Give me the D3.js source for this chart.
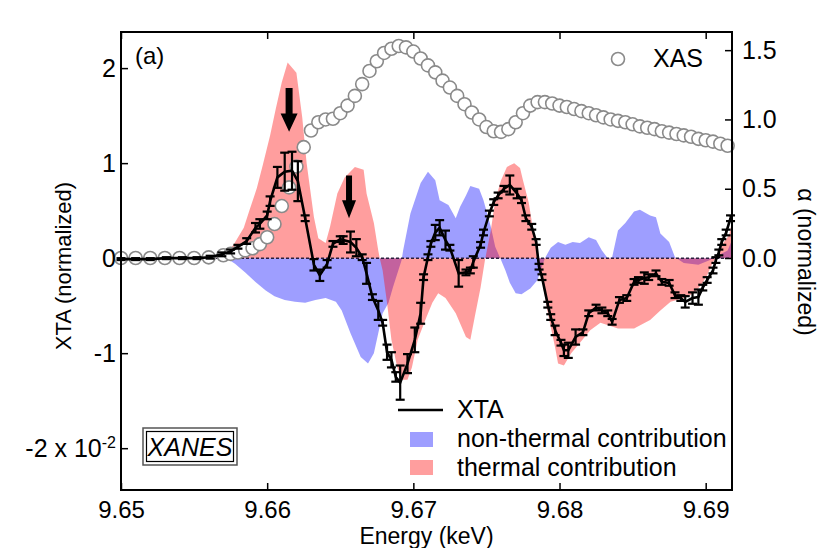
<!DOCTYPE html>
<html>
<head>
<meta charset="utf-8">
<script src="https://cdn.jsdelivr.net/npm/d3@7"></script>
<style>
  body { margin: 0; background: #fff; }
  svg text { font-family: "Liberation Sans", Arial, sans-serif; fill: #000; }
</style>
</head>
<body>
<svg id="chart" width="822" height="548"></svg>
<script>
// XTA (x 10^-2), energies in keV
var xtaE = [9.6500, 9.6510, 9.6520, 9.6531, 9.6542, 9.6552, 9.6561, 9.6569, 9.6575, 9.6580,
    9.6586, 9.6592, 9.6595, 9.6600, 9.6602, 9.6607, 9.6612, 9.6617, 9.6621, 9.6626,
    9.6632, 9.6636, 9.6641, 9.6645, 9.6650, 9.6652, 9.6657, 9.6661, 9.6665, 9.6668,
    9.6672, 9.6676, 9.6679, 9.6682, 9.6685, 9.6688, 9.6691, 9.6696, 9.6701, 9.6705,
    9.6707, 9.6710, 9.6712, 9.6715, 9.6718, 9.6722, 9.6725, 9.6731, 9.6736, 9.6739,
    9.6741, 9.6746, 9.6748, 9.6752, 9.6755, 9.6758, 9.6762, 9.6766, 9.6771, 9.6774,
    9.6777, 9.6781, 9.6784, 9.6786, 9.6788, 9.6792, 9.6794, 9.6797, 9.6801, 9.6803,
    9.6806, 9.6811, 9.6816, 9.6820, 9.6825, 9.6829, 9.6833, 9.6836, 9.6841, 9.6846,
    9.6851, 9.6854, 9.6858, 9.6861, 9.6866, 9.6870, 9.6875, 9.6879, 9.6883, 9.6886,
    9.6891, 9.6895, 9.6898, 9.6901, 9.6905, 9.6907, 9.6909, 9.6911, 9.6914, 9.6917];
var xtaV = [-0.01, -0.01, -0.01, 0.00, 0.00, 0.00, 0.01, 0.04, 0.07, 0.12,
    0.18, 0.32, 0.36, 0.45, 0.60, 0.85, 0.91, 0.92, 0.81, 0.42,
    -0.07, -0.18, -0.06, 0.15, 0.20, 0.19, 0.17, 0.11, 0.01, -0.16,
    -0.41, -0.55, -0.68, -0.99, -1.07, -1.25, -1.31, -1.11, -0.86, -0.58,
    -0.20, 0.01, 0.15, 0.27, 0.32, 0.19, 0.11, -0.16, -0.15, -0.13,
    -0.04, 0.14, 0.27, 0.47, 0.59, 0.66, 0.73, 0.77, 0.68, 0.61,
    0.42, 0.33, 0.17, -0.09, -0.20, -0.49, -0.62, -0.76, -0.89, -0.97,
    -0.97, -0.83, -0.78, -0.58, -0.52, -0.55, -0.58, -0.67, -0.44, -0.42,
    -0.25, -0.23, -0.21, -0.20, -0.16, -0.25, -0.26, -0.39, -0.42, -0.46,
    -0.42, -0.41, -0.31, -0.23, -0.13, -0.02, 0.06, 0.17, 0.27, 0.42];
var xtaErr = [0.01, 0.01, 0.01, 0.01, 0.01, 0.01, 0.015, 0.02, 0.02, 0.02,
    0.03, 0.05, 0.05, 0.04, 0.05, 0.11, 0.20, 0.20, 0.21, 0.03,
    0.06, 0.06, 0.04, 0.03, 0.03, 0.04, 0.11, 0.09, 0.03, 0.11,
    0.03, 0.10, 0.03, 0.08, 0.08, 0.05, 0.18, 0.10, 0.13, 0.11,
    0.03, 0.03, 0.03, 0.08, 0.08, 0.10, 0.03, 0.14, 0.03, 0.03,
    0.06, 0.03, 0.03, 0.03, 0.03, 0.03, 0.03, 0.10, 0.05, 0.03,
    0.03, 0.03, 0.03, 0.03, 0.03, 0.03, 0.03, 0.05, 0.03, 0.06,
    0.08, 0.08, 0.03, 0.03, 0.03, 0.03, 0.03, 0.03, 0.03, 0.03,
    0.03, 0.03, 0.06, 0.03, 0.03, 0.03, 0.03, 0.03, 0.03, 0.06,
    0.06, 0.08, 0.03, 0.03, 0.03, 0.03, 0.03, 0.03, 0.03, 0.03];

// thermal contribution (red)
var thermE = [9.6564, 9.6570, 9.6577, 9.6584, 9.6588, 9.6593, 9.6597, 9.6602, 9.6606, 9.6610,
    9.6614, 9.6620, 9.6624, 9.6627, 9.6632, 9.6635, 9.6640, 9.6643, 9.6648, 9.6653,
    9.6660, 9.6666, 9.6668, 9.6673, 9.6676, 9.6677, 9.6679, 9.6682, 9.6685, 9.6689,
    9.6692, 9.6696, 9.6699, 9.6703, 9.6709, 9.6713, 9.6717, 9.6722, 9.6729, 9.6736,
    9.6739, 9.6742, 9.6746, 9.6749, 9.6753, 9.6756, 9.6760, 9.6764, 9.6769, 9.6773,
    9.6775, 9.6779, 9.6782, 9.6785, 9.6786, 9.6788, 9.6792, 9.6797, 9.6799, 9.6803,
    9.6808, 9.6814, 9.6821, 9.6828, 9.6840, 9.6851, 9.6862, 9.6869, 9.6876, 9.6885,
    9.6892, 9.6897, 9.6901, 9.6905, 9.6907, 9.6912, 9.6916, 9.6918];
var thermV = [0, 0.02, 0.14, 0.32, 0.51, 0.74, 0.98, 1.29, 1.58, 1.85,
    2.06, 1.95, 1.48, 1.00, 0.43, 0.21, 0.16, 0.33, 0.68, 0.85,
    0.96, 0.93, 0.68, 0.37, 0.08, 0, -0.13, -0.47, -0.86, -1.15,
    -1.28, -1.28, -1.15, -0.86, -0.62, -0.47, -0.37, -0.42, -0.58, -0.83,
    -0.86, -0.62, -0.31, -0.02, 0.29, 0.61, 0.82, 0.96, 1.00, 0.95,
    0.82, 0.58, 0.29, 0.08, 0, -0.23, -0.58, -0.94, -1.11, -1.13,
    -1.00, -0.89, -0.76, -0.68, -0.74, -0.74, -0.65, -0.55, -0.46, -0.42,
    -0.37, -0.28, -0.18, -0.04, 0, 0.16, 0.24, 0.38];

// non-thermal contribution (blue)
var nonThermE = [9.6568, 9.6573, 9.6578, 9.6585, 9.6592, 9.6599, 9.6605, 9.6612, 9.6619, 9.6626,
    9.6633, 9.6640, 9.6647, 9.6651, 9.6657, 9.6664, 9.6669, 9.6673, 9.6676, 9.6679,
    9.6683, 9.6686, 9.6692, 9.6693, 9.6698, 9.6705, 9.6710, 9.6715, 9.6718, 9.6724,
    9.6729, 9.6732, 9.6736, 9.6739, 9.6745, 9.6748, 9.6753, 9.6756, 9.6760, 9.6763,
    9.6766, 9.6770, 9.6774, 9.6780, 9.6785, 9.6787, 9.6790, 9.6794, 9.6799, 9.6804,
    9.6809, 9.6814, 9.6820, 9.6825, 9.6829, 9.6833, 9.6836, 9.6840, 9.6845, 9.6851,
    9.6855, 9.6862, 9.6866, 9.6869, 9.6875, 9.6879, 9.6885, 9.6895, 9.6903, 9.6905,
    9.6915, 9.6918];
var nonThermV = [0, -0.01, -0.06, -0.15, -0.25, -0.34, -0.40, -0.44, -0.46, -0.47,
    -0.44, -0.42, -0.46, -0.55, -0.79, -1.04, -1.11, -1.00, -0.79, -0.58,
    -0.47, -0.31, -0.02, 0.08, 0.47, 0.79, 0.91, 0.82, 0.61, 0.56,
    0.42, 0.54, 0.66, 0.76, 0.73, 0.61, 0.33, 0.12, -0.02, -0.13,
    -0.26, -0.37, -0.38, -0.32, -0.23, -0.13, 0, 0.11, 0.17, 0.14,
    0.17, 0.16, 0.22, 0.19, 0.08, 0, 0.01, 0.29, 0.37, 0.49,
    0.51, 0.45, 0.43, 0.26, 0.17, 0.01, -0.05, -0.07, -0.02, 0,
    0.08, 0.19];

// XAS absorption (right axis)
var xasE = [9.650, 9.651, 9.652, 9.653, 9.654, 9.655, 9.656, 9.657, 9.6575, 9.658,
    9.6585, 9.659, 9.6595, 9.660, 9.6605, 9.661, 9.6615, 9.662, 9.6625, 9.663,
    9.6635, 9.664, 9.6645, 9.665, 9.6655, 9.666, 9.6665, 9.667, 9.6675, 9.668,
    9.6685, 9.669, 9.6695, 9.670, 9.6705, 9.671, 9.6715, 9.672, 9.6725, 9.673,
    9.6735, 9.674, 9.6745, 9.675, 9.6755, 9.676, 9.6765, 9.677, 9.6775, 9.678,
    9.6785, 9.679, 9.6795, 9.680, 9.6805, 9.681, 9.6815, 9.682, 9.6825, 9.683,
    9.6835, 9.684, 9.6845, 9.685, 9.6855, 9.686, 9.6865, 9.687, 9.6875, 9.688,
    9.6885, 9.689, 9.6895, 9.690, 9.6905, 9.691, 9.6915];
var xasA = [0, 0, 0, 0, 0, 0, 0.005, 0.02, 0.03, 0.04,
    0.055, 0.07, 0.10, 0.15, 0.245, 0.375, 0.51, 0.66, 0.80, 0.92,
    0.98, 1.00, 1.005, 1.045, 1.10, 1.17, 1.255, 1.35, 1.42, 1.48,
    1.51, 1.53, 1.52, 1.49, 1.44, 1.39, 1.34, 1.28, 1.23, 1.17,
    1.11, 1.05, 1.00, 0.945, 0.915, 0.91, 0.93, 0.98, 1.045, 1.10,
    1.125, 1.125, 1.115, 1.10, 1.09, 1.075, 1.06, 1.045, 1.03, 1.015,
    1.00, 0.99, 0.98, 0.965, 0.95, 0.94, 0.93, 0.915, 0.905, 0.895,
    0.885, 0.875, 0.86, 0.85, 0.84, 0.825, 0.81];

var xTicks = [9.65, 9.66, 9.67, 9.68, 9.69];
var leftTicks = [-2, -1, 0, 1, 2];
var rightTicks = [0, 0.5, 1.0, 1.5];

// arrows: energy, top, tip (left axis units)
var arrowE = [9.6615, 9.6656];
var arrowTop = [1.79, 0.87];
var arrowTip = [1.33, 0.42];

var svg = d3.select("#chart");
var L = 121, R = 732, T = 32, B = 490;

var x = d3.scaleLinear().domain([9.65, 9.6918]).range([L, R]);
var yL = d3.scaleLinear().domain([-2.44, 2.38]).range([B, T]);
var yR = d3.scaleLinear().domain([-1.674, 1.631]).range([B, T]);

var zip = function(a, b) { return a.map(function(d, i) { return [d, b[i]]; }); };

var area = d3.area()
    .x(function(d) { return x(d[0]); })
    .y0(yL(0))
    .y1(function(d) { return yL(d[1]); });

svg.append("path")
    .attr("d", area(zip(nonThermE, nonThermV)))
    .attr("fill", "#0000ff")
    .attr("fill-opacity", 0.38);

svg.append("path")
    .attr("d", area(zip(thermE, thermV)))
    .attr("fill", "#ff0000")
    .attr("fill-opacity", 0.38);

// zero line
svg.append("line")
    .attr("x1", L).attr("x2", R)
    .attr("y1", yL(0)).attr("y2", yL(0))
    .attr("stroke", "#2a1f3d")
    .attr("stroke-width", 1.5)
    .attr("stroke-dasharray", "3,2");

// XAS circles
svg.append("g").selectAll("circle")
    .data(zip(xasE, xasA))
    .enter().append("circle")
    .attr("cx", function(d) { return x(d[0]); })
    .attr("cy", function(d) { return yR(d[1]); })
    .attr("r", 6.5)
    .attr("fill", "#fff")
    .attr("stroke", "#8a8a8a")
    .attr("stroke-width", 1.6);

// XTA with error bars
var xta = xtaE.map(function(e, i) { return {e: e, v: xtaV[i], err: xtaErr[i]}; });

var eb = svg.append("g").attr("stroke", "#000").attr("stroke-width", 2.2);
xta.forEach(function(d) {
    var cx = x(d.e), y1 = yL(d.v + d.err), y2 = yL(d.v - d.err);
    eb.append("line").attr("x1", cx).attr("x2", cx).attr("y1", y1).attr("y2", y2);
    eb.append("line").attr("x1", cx - 4.5).attr("x2", cx + 4.5).attr("y1", y1).attr("y2", y1);
    eb.append("line").attr("x1", cx - 4.5).attr("x2", cx + 4.5).attr("y1", y2).attr("y2", y2);
});

svg.append("path")
    .datum(xta)
    .attr("d", d3.line().x(function(d) { return x(d.e); }).y(function(d) { return yL(d.v); }))
    .attr("fill", "none")
    .attr("stroke", "#000")
    .attr("stroke-width", 2.6);

// arrows
arrowE.forEach(function(e, i) {
    var cx = x(e), yt = yL(arrowTop[i]), yp = yL(arrowTip[i]);
    var hh = (yp - yt) * 0.42;
    var w = i === 0 ? 3.5 : 3, hw = i === 0 ? 8.5 : 7;
    svg.append("path")
        .attr("d", "M" + (cx - w) + "," + yt + "L" + (cx + w) + "," + yt +
            "L" + (cx + w) + "," + (yp - hh) + "L" + (cx + hw) + "," + (yp - hh) +
            "L" + cx + "," + yp + "L" + (cx - hw) + "," + (yp - hh) +
            "L" + (cx - w) + "," + (yp - hh) + "Z")
        .attr("fill", "#000");
});

// axes
var fs = "25px";
var plain = function(d) { return String(d); };
var gx = svg.append("g").attr("transform", "translate(0," + B + ")")
    .call(d3.axisBottom(x).tickValues(xTicks).tickFormat(d3.format(".2f"))
        .tickSizeInner(-7).tickSizeOuter(0).tickPadding(11));
var gt = svg.append("g").attr("transform", "translate(0," + T + ")")
    .call(d3.axisTop(x).tickValues(xTicks).tickFormat("").tickSizeInner(-7).tickSizeOuter(0));
var gl = svg.append("g").attr("transform", "translate(" + L + ",0)")
    .call(d3.axisLeft(yL).tickValues(leftTicks).tickFormat(plain)
        .tickSizeInner(-7).tickSizeOuter(0).tickPadding(5));
var gr = svg.append("g").attr("transform", "translate(" + R + ",0)")
    .call(d3.axisRight(yR).tickValues(rightTicks).tickFormat(d3.format(".1f"))
        .tickSizeInner(-7).tickSizeOuter(0).tickPadding(10));

[gx, gt, gl, gr].forEach(function(g) {
    g.select(".domain").remove();
    g.selectAll(".tick line").attr("stroke", "#000").attr("stroke-width", 1.5);
    g.selectAll(".tick text").attr("font-size", fs).attr("fill", "#000")
        .style("font-family", "'Liberation Sans', Arial, sans-serif");
});
gx.selectAll(".tick text").attr("font-size", "24px");

// -2 x 10^-2 label
gl.selectAll(".tick text").filter(function(d) { return d === -2; })
    .text("-2 x 10")
    .append("tspan").attr("dy", "-0.55em").attr("font-size", "16px").text("-2");

svg.append("rect")
    .attr("x", L).attr("y", T).attr("width", R - L).attr("height", B - T)
    .attr("fill", "none").attr("stroke", "#000").attr("stroke-width", 2);

// labels
svg.append("text").attr("x", (L + R) / 2).attr("y", 543.5)
    .attr("text-anchor", "middle").attr("font-size", "23px").text("Energy (keV)");
svg.append("text").attr("transform", "translate(71,266) rotate(-90)")
    .attr("text-anchor", "middle").attr("font-size", "22px").text("XTA (normalized)");
svg.append("text").attr("transform", "translate(798,262) rotate(90)")
    .attr("text-anchor", "middle").attr("font-size", "23px").text("\u03b1 (normalized)");
svg.append("text").attr("x", 135).attr("y", 64).attr("font-size", "24px").text("(a)");

// XAS legend
svg.append("circle").attr("cx", 618).attr("cy", 59).attr("r", 6.5)
    .attr("fill", "#fff").attr("stroke", "#8a8a8a").attr("stroke-width", 1.6);
svg.append("text").attr("x", 653).attr("y", 67).attr("font-size", "25px").text("XAS");

// XTA / contribution legend
svg.append("line").attr("x1", 398).attr("x2", 443).attr("y1", 410).attr("y2", 410)
    .attr("stroke", "#000").attr("stroke-width", 2.6);
svg.append("text").attr("x", 457).attr("y", 418).attr("font-size", "25px").text("XTA");
svg.append("rect").attr("x", 410).attr("y", 432).attr("width", 23).attr("height", 15)
    .attr("fill", "#0000ff").attr("fill-opacity", 0.38);
svg.append("text").attr("x", 457).attr("y", 447).attr("font-size", "25px").text("non-thermal contribution");
svg.append("rect").attr("x", 410).attr("y", 460).attr("width", 23).attr("height", 15)
    .attr("fill", "#ff0000").attr("fill-opacity", 0.38);
svg.append("text").attr("x", 457).attr("y", 476).attr("font-size", "25px").text("thermal contribution");

// XANES box
svg.append("rect").attr("x", 143).attr("y", 428).attr("width", 94).attr("height", 37)
    .attr("fill", "#fff").attr("stroke", "#555").attr("stroke-width", 1.5);
svg.append("rect").attr("x", 146.5).attr("y", 431.5).attr("width", 87).attr("height", 30)
    .attr("fill", "none").attr("stroke", "#000").attr("stroke-width", 1.2);
svg.append("text").attr("x", 190).attr("y", 456).attr("text-anchor", "middle")
    .attr("font-size", "25px").attr("font-style", "italic").text("XANES");
</script>
</body>
</html>
